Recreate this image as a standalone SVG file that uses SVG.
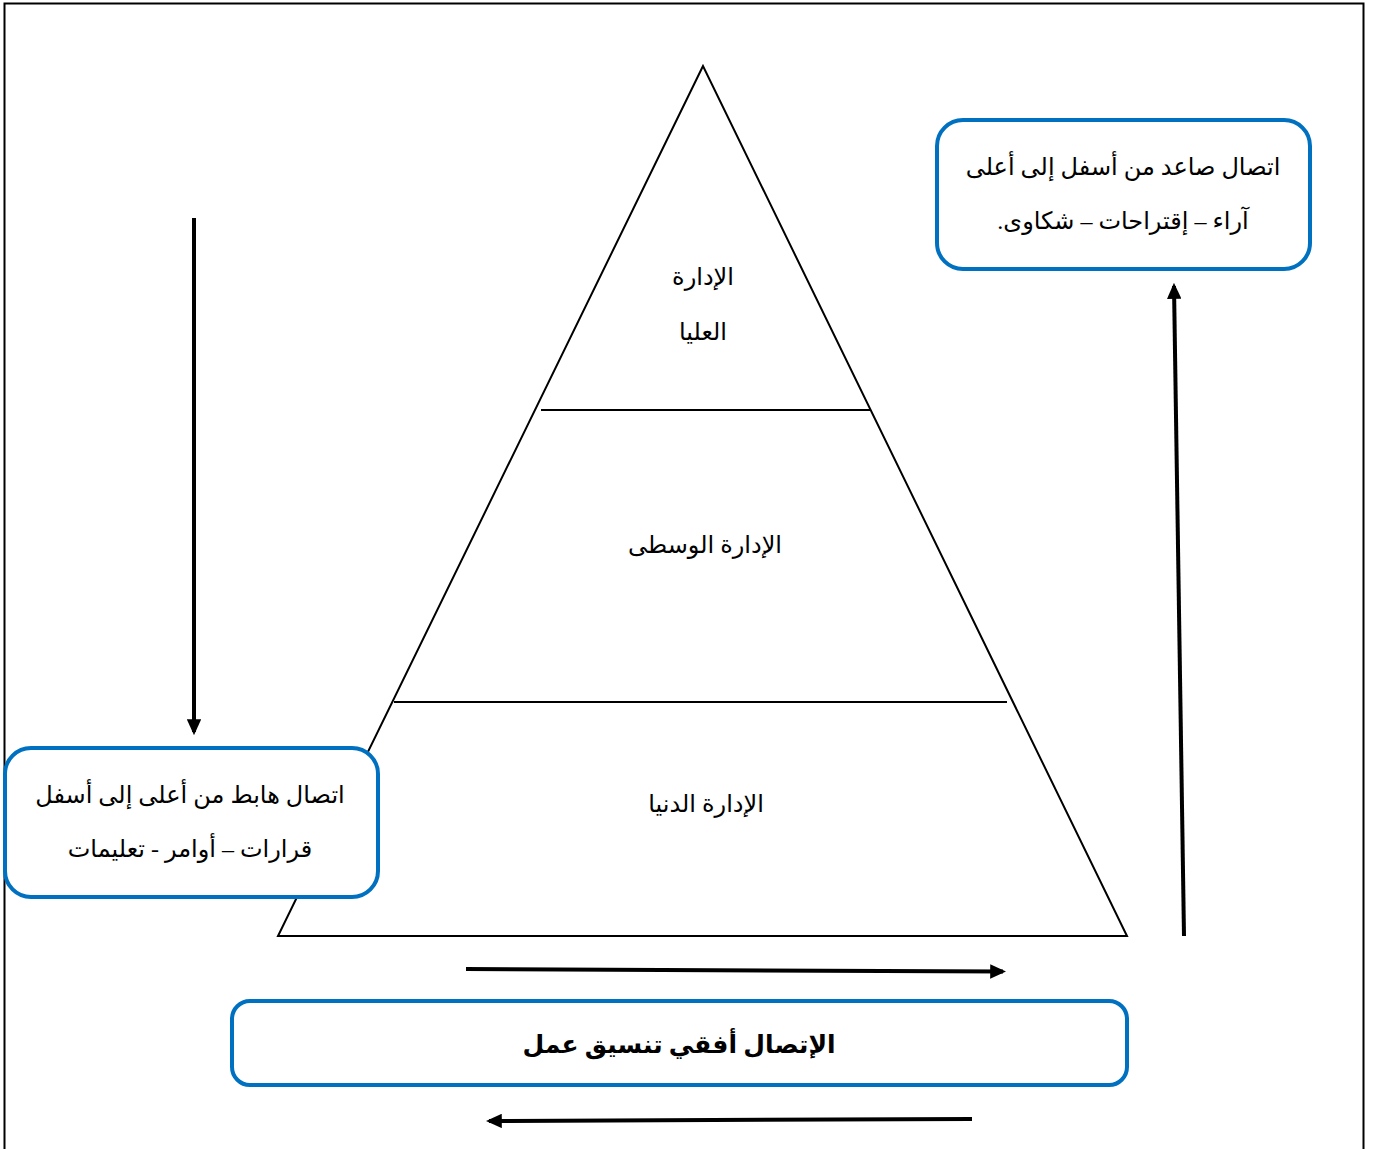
<svg xmlns="http://www.w3.org/2000/svg" width="1376" height="1149" viewBox="0 0 1376 1149">
<defs>
<marker id="ah" markerWidth="4" markerHeight="3.6" refX="3.2" refY="1.8" orient="auto" markerUnits="strokeWidth">
<path d="M0,0 L4,1.8 L0,3.6 Z" fill="#000"/>
</marker>
<style>
.t{font-family:"Liberation Serif","DejaVu Sans",serif;font-size:24px;fill:#000;text-anchor:middle;direction:rtl}
.b{font-weight:bold;font-size:25px}
.box{fill:#fff;stroke:#0070C0;stroke-width:4}
.ln{stroke:#000;stroke-width:2;fill:none}
.ar{stroke:#000;stroke-width:4;fill:none;marker-end:url(#ah)}
</style>
</defs>
<rect width="1376" height="1149" fill="#fff"/>
<path d="M4.5,1149 V3.5 H1363.5 V1149" fill="none" stroke="#000" stroke-width="2"/>
<g id="pyramid">
<polygon points="703,66 278,936 1127,936" class="ln"/>
<line x1="541" y1="410" x2="870" y2="410" class="ln"/>
<line x1="394" y1="702" x2="1007" y2="702" class="ln"/>
</g>
<g id="top-level">
<text class="t" x="703" y="285">الإدارة</text>
<text class="t" x="703" y="340">العليا</text>
</g>
<g id="middle-level">
<text class="t" x="705" y="553">الإدارة الوسطى</text>
</g>
<g id="lower-level">
<text class="t" x="706" y="812">الإدارة الدنيا</text>
</g>
<g id="upward-box">
<rect class="box" x="937" y="120" width="373" height="149" rx="26"/>
<text class="t" x="1123" y="175">اتصال صاعد من أسفل إلى أعلى</text>
<text class="t" x="1123" y="229">آراء – إقتراحات – شكاوى.</text>
</g>
<g id="downward-box">
<rect class="box" x="5" y="748" width="373" height="149" rx="26"/>
<text class="t" x="190" y="803">اتصال هابط من أعلى إلى أسفل</text>
<text class="t" x="190" y="857">قرارات – أوامر - تعليمات</text>
</g>
<g id="horizontal-box">
<rect class="box" x="232" y="1001" width="895" height="84" rx="18"/>
<text class="t b" x="679" y="1053">الإتصال أفقي تنسيق عمل</text>
</g>
<g id="connectors">
<line x1="194" y1="218" x2="194" y2="732" class="ar"/>
<line x1="1184" y1="936" x2="1174" y2="286" class="ar"/>
<line x1="466" y1="969" x2="1003" y2="971.5" class="ar"/>
<line x1="972" y1="1119" x2="489" y2="1121" class="ar"/>
</g>
</svg>
